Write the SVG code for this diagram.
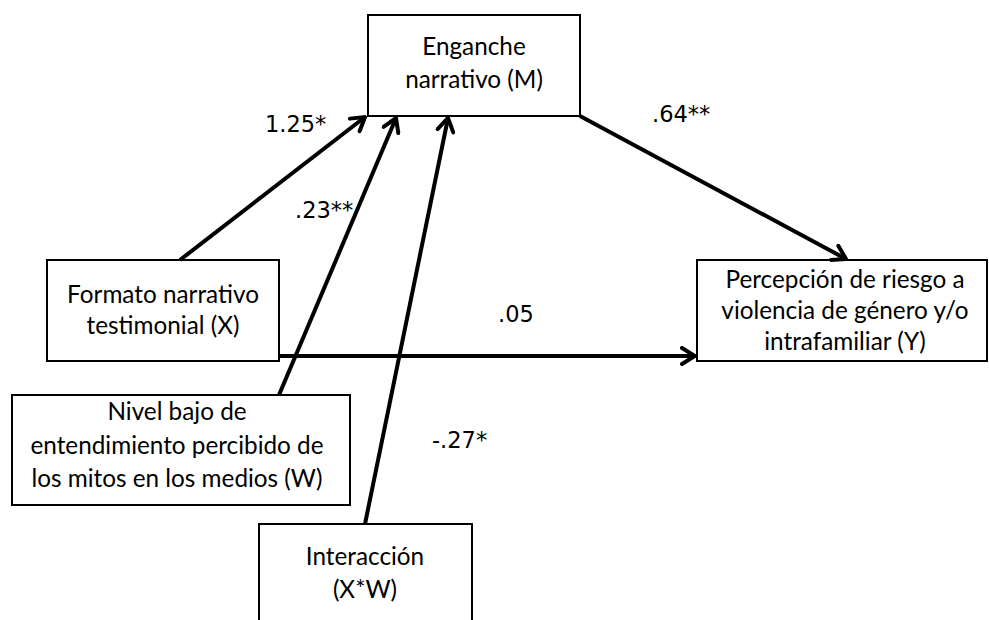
<svg xmlns="http://www.w3.org/2000/svg" width="989" height="620" viewBox="0 0 989 620">
<style>
.box{fill:#fff;stroke:#000;stroke-width:2}
.t{font-family:Lato,"Open Sans","Liberation Sans",sans-serif;font-size:24.3px;fill:#000;text-anchor:middle}
.lbl{font-family:"DejaVu Sans","Liberation Sans",sans-serif;font-size:22.5px;fill:#000}
.edge{stroke:#000;stroke-width:4;fill:none;marker-end:url(#arr)}
</style>
<defs>
<marker id="arr" markerUnits="userSpaceOnUse" viewBox="-16 -10 18 20" refX="0" refY="0" markerWidth="18" markerHeight="20" orient="auto">
<path d="M-13,-8 L0,0 L-13,8" fill="none" stroke="#000" stroke-width="4" stroke-linecap="round" stroke-linejoin="miter"/>
</marker>
</defs>
<rect width="989" height="620" fill="#fff"/>
<g id="node-M">
<rect class="box" x="368" y="15" width="212" height="101"/>
<text class="t" x="474" y="55">Enganche</text>
<text class="t" x="474" y="88">narrativo (M)</text>
</g>
<g id="node-X">
<rect class="box" x="47" y="260" width="232" height="101"/>
<text class="t" x="163" y="303">Formato narrativo</text>
<text class="t" x="163" y="334">testimonial (X)</text>
</g>
<g id="node-Y">
<rect class="box" x="697" y="260" width="290" height="101"/>
<text class="t" x="845" y="288">Percepción de riesgo a</text>
<text class="t" x="845" y="319">violencia de género y/o</text>
<text class="t" x="845" y="350">intrafamiliar (Y)</text>
</g>
<g id="node-W">
<rect class="box" x="12" y="395" width="338" height="110"/>
<text class="t" x="177" y="420">Nivel bajo de</text>
<text class="t" x="177" y="454">entendimiento percibido de</text>
<text class="t" x="177" y="487">los mitos en los medios (W)</text>
</g>
<g id="node-XW">
<path class="box" d="M259,622 L259,524 L472,524 L472,622"/>
<text class="t" x="365" y="565">Interacción</text>
<text class="t" x="365" y="598">(X*W)</text>
</g>
<g id="connectors">
<line class="edge" x1="180" y1="260" x2="365" y2="117"/>
<line class="edge" x1="279" y1="395" x2="396" y2="118"/>
<line class="edge" x1="365" y1="524" x2="448" y2="118"/>
<line class="edge" x1="580" y1="116" x2="846" y2="259"/>
<line class="edge" x1="279" y1="356" x2="695" y2="356"/>
</g>
<g id="labels">
<text class="lbl" x="265" y="132">1.25*</text>
<text class="lbl" x="295" y="218">.23**</text>
<text class="lbl" x="652" y="122">.64**</text>
<text class="lbl" x="498" y="322">.05</text>
<text class="lbl" x="432" y="448">-.27*</text>
</g>
</svg>
